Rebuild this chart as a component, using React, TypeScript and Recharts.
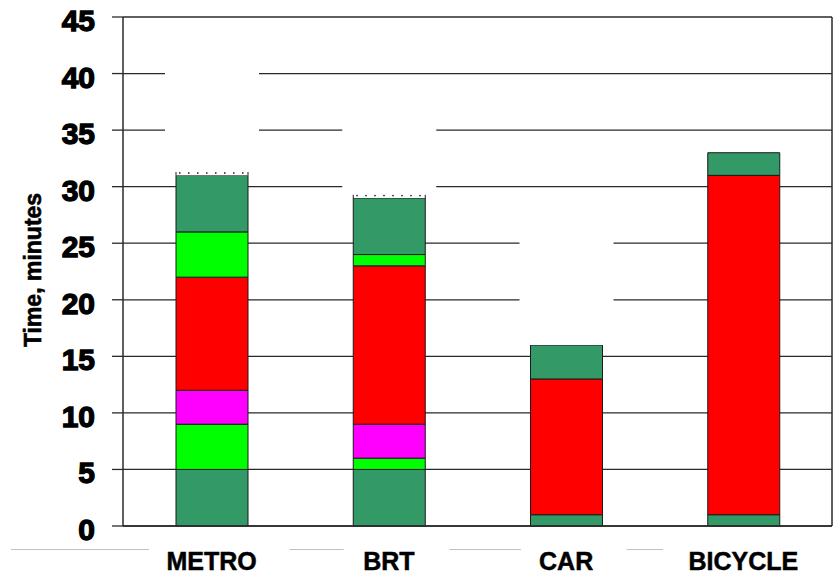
import React from 'react';
import { BarChart, Bar, XAxis, YAxis, CartesianGrid } from 'recharts';

// travel time by mode, minutes (stacked bottom -> top)
const categories = ['METRO', 'BRT', 'CAR', 'BICYCLE'];
const startLeg = [5, 5, 1, 1];
const accessLeg = [4, 1, 0, 0];
const waitLeg = [3, 3, 0, 0];
const rideLeg = [10, 14, 12, 30];
const egressLeg = [4, 1, 0, 0];
const endLeg = [5, 5, 3, 2];
const hatchLeg = [0.3, 0.3, 0, 0];
const blankLeg = [11.7, 8.7, 12, 0];
const yTicks = [0, 5, 10, 15, 20, 25, 30, 35, 40, 45];

const data = categories.map((name, i) => ({
  name,
  startLeg: startLeg[i],
  accessLeg: accessLeg[i],
  waitLeg: waitLeg[i],
  rideLeg: rideLeg[i],
  egressLeg: egressLeg[i],
  endLeg: endLeg[i],
  hatchLeg: hatchLeg[i],
  blankLeg: blankLeg[i],
}));

const FONT = '"Liberation Sans", Arial, sans-serif';
const DARK_GREEN = '#339966';
const GREEN = '#00FF00';
const MAGENTA = '#FF00FF';
const RED = '#FF0000';
const EDGE = '#1a1a1a';
const LINE = '#2a2a2a';

// white mask above a bar, a bit wider than the bar (hides the grid)
// eslint-disable-next-line @typescript-eslint/no-explicit-any
const BlankShape = (props: any) => {
  const { x, y, width, height } = props;
  if (!height) return null;
  return <rect x={x - 11} y={y} width={width + 22} height={height} fill="#fff" />;
};

// thin white cap with a dotted top edge
// eslint-disable-next-line @typescript-eslint/no-explicit-any
const HatchShape = (props: any) => {
  const { x, y, width, height } = props;
  if (!height) return null;
  return (
    <g>
      <rect x={x} y={y} width={width} height={height} fill="#fff" />
      <line x1={x} y1={y} x2={x} y2={y + height} stroke={EDGE} />
      <line x1={x + width} y1={y} x2={x + width} y2={y + height} stroke={EDGE} />
      <line x1={x + 3} y1={y + 1} x2={x + width} y2={y + 1} stroke={EDGE} strokeDasharray="1.5 7.5" strokeWidth={1.5} />
    </g>
  );
};

// eslint-disable-next-line @typescript-eslint/no-explicit-any
const YTick = ({ x, y, payload }: any) => (
  <text x={x} y={y + 14} textAnchor="end" fontFamily={FONT} fontWeight="bold" fontSize={30} fill="#000" stroke="#000" strokeWidth={1.3}>
    {payload.value}
  </text>
);

const charW = 17.5;
// eslint-disable-next-line @typescript-eslint/no-explicit-any
const XTick = ({ x, y, payload, index }: any) => {
  const label: string = payload.value;
  const w = label.length * charW;
  const prev = index > 0 ? categories[index - 1].length * charW : 0;
  const band = 177;
  const start = index === 0 ? 11 : x - band + prev / 2 + 34;
  const end = x - w / 2 - 19;
  return (
    <g>
      <line x1={start} y1={y + 23.5} x2={end} y2={y + 23.5} stroke="#c0c0c0" strokeWidth={1} />
      <text x={x} y={y + 44} textAnchor="middle" fontFamily={FONT} fontWeight="bold" fontSize={25} fill="#000" stroke="#000" strokeWidth={0.5}>
        {label}
      </text>
    </g>
  );
};

const YLabel = () => (
  <text transform="translate(41,270) rotate(-90)" textAnchor="middle" fontFamily={FONT} fontWeight="bold" fontSize={23} fill="#000" stroke="#000" strokeWidth={0.6}>
    Time, minutes
  </text>
);

export default function App() {
  return (
    <div style={{ position: 'absolute', left: 0, top: 0, width: 838, height: 575, background: '#fff' }}>
      <BarChart width={838} height={575} data={data} margin={{ top: 17, right: 1, left: 0, bottom: 0 }} barCategoryGap={0}>
        <CartesianGrid vertical={false} stroke={LINE} strokeWidth={1.3} />
        <XAxis
          dataKey="name"
          height={49}
          tickLine={false}
          tickSize={0}
          tickMargin={0}
          axisLine={{ stroke: LINE, strokeWidth: 1.5 }}
          tick={<XTick />}
          interval={0}
        />
        <YAxis
          width={123}
          domain={[0, 45]}
          ticks={yTicks}
          interval={0}
          tickSize={11}
          tickMargin={17}
          tickLine={{ stroke: LINE, strokeWidth: 1.3 }}
          axisLine={{ stroke: LINE, strokeWidth: 1.5 }}
          tick={<YTick />}
          label={{ content: <YLabel /> }}
        />
        <YAxis yAxisId="r" orientation="right" width={5} tick={false} tickLine={false} axisLine={{ stroke: LINE, strokeWidth: 1.5 }} />
        <Bar dataKey="startLeg" stackId="a" barSize={72} fill={DARK_GREEN} stroke={EDGE} isAnimationActive={false} />
        <Bar dataKey="accessLeg" stackId="a" barSize={72} fill={GREEN} stroke={EDGE} isAnimationActive={false} />
        <Bar dataKey="waitLeg" stackId="a" barSize={72} fill={MAGENTA} stroke={EDGE} isAnimationActive={false} />
        <Bar dataKey="rideLeg" stackId="a" barSize={72} fill={RED} stroke={EDGE} isAnimationActive={false} />
        <Bar dataKey="egressLeg" stackId="a" barSize={72} fill={GREEN} stroke={EDGE} isAnimationActive={false} />
        <Bar dataKey="endLeg" stackId="a" barSize={72} fill={DARK_GREEN} stroke={EDGE} isAnimationActive={false} />
        <Bar dataKey="hatchLeg" stackId="a" barSize={72} shape={<HatchShape />} isAnimationActive={false} />
        <Bar dataKey="blankLeg" stackId="a" barSize={72} shape={<BlankShape />} isAnimationActive={false} />
      </BarChart>
    </div>
  );
}
